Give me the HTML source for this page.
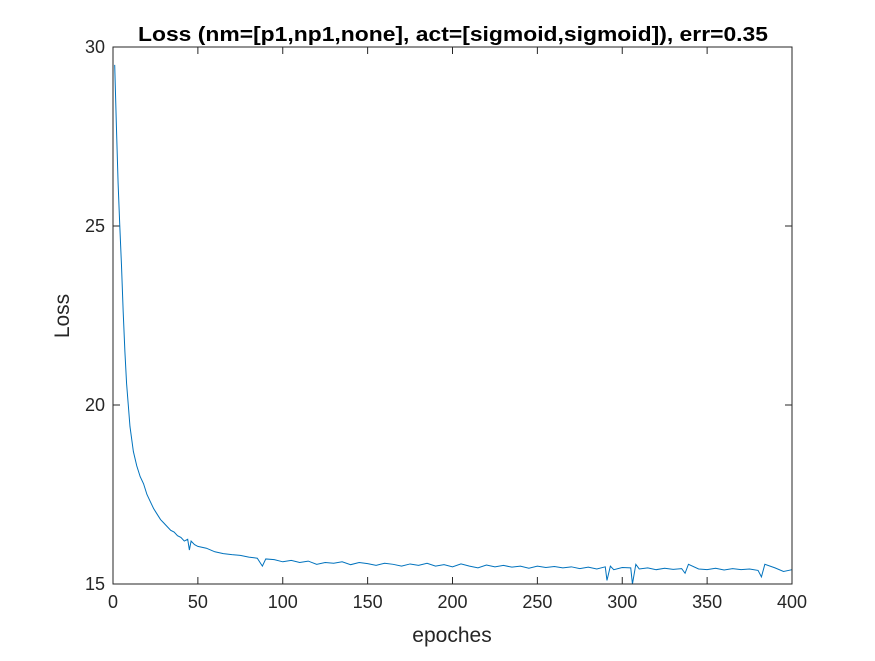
<!DOCTYPE html>
<html><head><meta charset="utf-8"><style>
body{margin:0;background:#fff;}
svg text{font-family:"Liberation Sans",Arial,sans-serif;}
</style></head><body>
<svg id="chart" width="875" height="656">
<rect x="0" y="0" width="875" height="656" fill="#fff"/>
<text x="138" y="41" textLength="630" lengthAdjust="spacingAndGlyphs" font-size="20" font-weight="bold" fill="#000">Loss (nm=[p1,np1,none], act=[sigmoid,sigmoid]), err=0.35</text>
<text x="452" y="642" text-anchor="middle" font-size="21" fill="#262626">epoches</text>
<text transform="translate(69,316) rotate(-90)" text-anchor="middle" font-size="21" fill="#262626">Loss</text>
<g id="ticks"></g>
<path id="line" fill="none" stroke="#0072BD" stroke-width="1"/>
<rect x="113" y="47" width="679" height="537" fill="none" stroke="#262626" stroke-width="1"/>
</svg>
<script>
const xTicks=[0,50,100,150,200,250,300,350,400];
const yTicks=[15,20,25,30];
const epochs=[1,2,3,4,5,6,7,8,9,10,12,14,16,18,20,22,24,26,28,30,32,34,36,38,40,42,44,45,46,48,50,55,60,65,70,75,80,85,88,90,95,100,105,110,115,120,125,130,135,140,145,150,155,160,165,170,175,180,185,190,195,200,205,210,215,220,225,230,235,240,245,250,255,260,265,270,275,280,285,290,291,293,295,300,305,306,308,310,315,320,325,330,335,337,339,345,350,355,360,365,370,375,380,382,384,390,395,400];
const loss=[29.5,27.8,26.2,25.0,23.9,22.6,21.5,20.6,20.0,19.4,18.7,18.3,18.0,17.8,17.5,17.3,17.1,16.95,16.8,16.7,16.6,16.5,16.45,16.35,16.3,16.2,16.25,15.95,16.2,16.1,16.05,16.0,15.9,15.85,15.82,15.8,15.75,15.72,15.5,15.7,15.68,15.62,15.66,15.6,15.64,15.55,15.6,15.58,15.62,15.54,15.6,15.57,15.52,15.58,15.55,15.5,15.56,15.52,15.58,15.5,15.54,15.48,15.56,15.5,15.45,15.53,15.48,15.52,15.47,15.5,15.44,15.5,15.46,15.49,15.45,15.48,15.43,15.47,15.42,15.48,15.1,15.5,15.4,15.46,15.45,15.0,15.55,15.42,15.45,15.4,15.44,15.41,15.43,15.3,15.55,15.42,15.4,15.44,15.39,15.43,15.4,15.42,15.38,15.2,15.55,15.45,15.35,15.4];
const X0=113,X1=792,Y0=584,Y1=47;
const xs=v=>X0+(v-0)/400*(X1-X0);
const ys=v=>Y0-(v-15)/15*(Y0-Y1);
const ns="http://www.w3.org/2000/svg";
const g=document.getElementById('ticks');
function mk(tag,attrs){const e=document.createElementNS(ns,tag);for(const k in attrs)e.setAttribute(k,attrs[k]);return e;}
xTicks.forEach(t=>{
 const x=xs(t);
 const a=mk('line',{x1:x,x2:x,y1:Y0,y2:Y0-7,stroke:'#262626'});
 
 
 g.appendChild(a);
 const b=mk('line',{x1:x,x2:x,y1:Y1,y2:Y1+7,stroke:'#262626'});
 
 
 g.appendChild(b);
 const l=mk('text',{x:x,y:Y0+24,'text-anchor':'middle','font-size':'18',fill:'#262626'});
 
 
 l.textContent=t;g.appendChild(l);
});
yTicks.forEach(t=>{
 const y=ys(t);
 const a=mk('line',{x1:X0,x2:X0+7,y1:y,y2:y,stroke:'#262626'});
 
 
 g.appendChild(a);
 const b=mk('line',{x1:X1,x2:X1-7,y1:y,y2:y,stroke:'#262626'});
 
 
 g.appendChild(b);
 const l=mk('text',{x:X0-8,y:y+6,'text-anchor':'end','font-size':'18',fill:'#262626'});
 
 
 l.textContent=t;g.appendChild(l);
});
document.getElementById('line').setAttribute('d',epochs.map((e,i)=>(i?'L':'M')+xs(e).toFixed(2)+','+ys(loss[i]).toFixed(2)).join(''));
</script>
</body></html>
